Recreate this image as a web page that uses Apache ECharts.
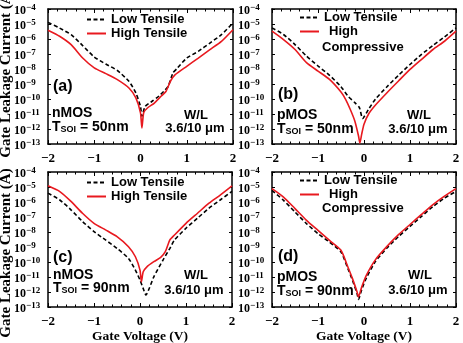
<!DOCTYPE html>
<html>
<head>
<meta charset="utf-8">
<script src="https://cdn.jsdelivr.net/npm/echarts@6/dist/echarts.min.js"></script>
<style>
  html, body { margin: 0; padding: 0; background: #fff; }
  #chart { width: 463px; height: 343px; }
</style>
</head>
<body>
<div id="chart"></div>
<script>
// gate voltage (V) and log10 of gate leakage current (A)
var vA_low  = [-2, -1.75, -1.5, -1.25, -1, -0.75, -0.5, -0.25, -0.1, 0, 0.03, 0.1, 0.25, 0.4, 0.5, 0.6, 0.7, 0.8, 1, 1.25, 1.5, 1.75, 2]
var iA_low  = [-4.89, -5.27, -5.71, -6.44, -7.2, -7.67, -8.1, -8.82, -9.6, -10.5, -11.15, -10.5, -10.15, -9.8, -9.5, -9.15, -8.27, -7.93, -7.27, -6.82, -6.27, -5.71, -4.93]
var vA_high = [-2, -1.75, -1.5, -1.25, -1, -0.75, -0.5, -0.25, -0.1, 0, 0.03, 0.07, 0.15, 0.3, 0.45, 0.55, 0.65, 0.75, 1, 1.25, 1.5, 1.75, 2]
var iA_high = [-5.42, -5.82, -6.38, -7.27, -7.93, -8.31, -8.71, -9.27, -9.93, -10.93, -11.93, -10.9, -10.6, -10.27, -9.8, -9.5, -8.8, -8.38, -7.82, -7.27, -6.71, -6.16, -5.38]

var vB_low  = [-2, -1.75, -1.5, -1.25, -1, -0.75, -0.5, -0.35, -0.2, -0.1, -0.03, 0.1, 0.25, 0.5, 0.75, 1, 1.25, 1.5, 1.75, 2]
var iB_low  = [-5.26, -5.7, -6.37, -7.14, -7.8, -8.42, -9.18, -9.8, -10.24, -10.57, -11.3, -10.68, -10.0, -9.18, -8.42, -7.7, -7.03, -6.43, -5.86, -5.26]
var vB_high = [-2, -1.75, -1.5, -1.25, -1, -0.75, -0.5, -0.4, -0.3, -0.2, -0.12, -0.09, -0.05, 0, 0.1, 0.25, 0.5, 0.75, 1, 1.25, 1.5, 1.75, 2]
var iB_high = [-5.48, -6.04, -6.7, -7.58, -8.14, -8.69, -9.53, -10.02, -10.68, -11.46, -12.45, -12.94, -12.34, -11.68, -11.0, -10.4, -9.58, -8.8, -8.03, -7.36, -6.7, -6.15, -5.48]

var vC_low  = [-2, -1.75, -1.5, -1.25, -1, -0.75, -0.5, -0.25, -0.1, 0, 0.07, 0.13, 0.2, 0.3, 0.5, 0.65, 0.75, 1, 1.25, 1.5, 1.75, 2]
var iC_low  = [-5.41, -5.85, -6.52, -7.3, -7.97, -8.53, -9.09, -9.76, -10.54, -11.2, -11.77, -12.2, -11.77, -10.99, -9.87, -9.09, -8.53, -7.75, -7.08, -6.41, -5.85, -5.29]
var vC_high = [-2, -1.75, -1.5, -1.25, -1, -0.75, -0.5, -0.25, -0.1, 0, 0.03, 0.07, 0.15, 0.3, 0.45, 0.55, 0.65, 0.75, 1, 1.25, 1.5, 1.75, 2]
var iC_high = [-4.92, -5.29, -5.96, -6.75, -7.42, -7.86, -8.31, -8.98, -9.65, -10.54, -11.32, -10.65, -10.32, -9.98, -9.69, -9.31, -8.53, -8.2, -7.42, -6.75, -6.08, -5.52, -4.92]

var vD_low  = [-2, -1.75, -1.5, -1.25, -1, -0.75, -0.5, -0.35, -0.25, -0.15, -0.12, -0.05, 0.05, 0.25, 0.5, 0.75, 1, 1.25, 1.5, 1.75, 2]
var iD_low  = [-5.22, -5.89, -6.67, -7.44, -8.11, -8.67, -9.33, -10.44, -11.22, -12.11, -12.49, -11.84, -11.07, -9.96, -9.07, -8.3, -7.63, -6.96, -6.3, -5.74, -5.29]
var vD_high = [-2, -1.75, -1.5, -1.25, -1, -0.75, -0.5, -0.35, -0.25, -0.15, -0.12, -0.05, 0.05, 0.25, 0.5, 0.75, 1, 1.25, 1.5, 1.75, 2]
var iD_high = [-5.11, -5.67, -6.44, -7.22, -7.89, -8.56, -9.22, -10.33, -11.11, -12.0, -12.33, -11.67, -10.89, -9.84, -8.96, -8.18, -7.5, -6.83, -6.17, -5.61, -5.11]

var xTicks = [-2, -1, 0, 1, 2]
var yExpMin = -13
var yExpMax = -4

var RED = '#e8191f'
var SERIF = '"Liberation Serif", "Times New Roman", serif'
var SANS = '"Liberation Sans", Arial, sans-serif'

function pairs(v, i) {
  return v.map(function (x, k) { return [x, i[k]] })
}

var panels = [
  { grid: { left: 48, top: 9, width: 185, height: 135 }, low: pairs(vA_low, iA_low), high: pairs(vA_high, iA_high), highName: 'High Tensile', legend: [86, 13] },
  { grid: { left: 272, top: 9, width: 184, height: 135 }, low: pairs(vB_low, iB_low), high: pairs(vB_high, iB_high), highName: 'High Compressive', legend: [299, 11] },
  { grid: { left: 48, top: 172, width: 184, height: 135 }, low: pairs(vC_low, iC_low), high: pairs(vC_high, iC_high), highName: 'High Tensile', legend: [86, 176] },
  { grid: { left: 272, top: 172, width: 184, height: 135 }, low: pairs(vD_low, iD_low), high: pairs(vD_high, iD_high), highName: 'High Compressive', legend: [299, 174] }
]

var axisLine = { onZero: false, lineStyle: { color: '#000', width: 1.5 } }
var minus = function (v) { return v < 0 ? '\u2212' + (-v) : String(v) }

var grid = [], xAxis = [], yAxis = [], series = [], legend = []
panels.forEach(function (p, i) {
  grid.push(p.grid)
  var xBase = {
    gridIndex: i, type: 'value', min: xTicks[0], max: xTicks[xTicks.length - 1], interval: 1,
    axisLine: axisLine, splitLine: { show: false },
    axisTick: { inside: true, length: 4, lineStyle: { color: '#000', width: 1 } },
    minorTick: { show: true, splitNumber: 5, length: 2.5, lineStyle: { color: '#000', width: 1 } }
  }
  xAxis.push(Object.assign({}, xBase, {
    position: 'bottom',
    axisLabel: { margin: 8, color: '#000', fontFamily: SERIF, fontWeight: 'bold', fontSize: 13, formatter: minus, showMinLabel: true, showMaxLabel: true }
  }))
  xAxis.push(Object.assign({}, xBase, { position: 'top', axisLabel: { show: false } }))

  var yBase = {
    gridIndex: i, type: 'value', min: yExpMin, max: yExpMax, interval: 1,
    axisLine: axisLine, splitLine: { show: false },
    axisTick: { inside: true, length: 3, lineStyle: { color: '#000', width: 1 } }
  }
  yAxis.push(Object.assign({}, yBase, {
    position: 'left',
    axisLabel: {
      margin: 34, align: 'left', color: '#000', showMinLabel: true, showMaxLabel: true, hideOverlap: false,
      formatter: function (v) { return '{b|10}{s|' + minus(v) + '}' },
      rich: {
        b: { fontFamily: SERIF, fontWeight: 'bold', fontSize: 12, lineHeight: 11, padding: [3, 0, 0, 0], color: '#000' },
        s: { fontFamily: SERIF, fontWeight: 'bold', fontSize: 9, lineHeight: 8, verticalAlign: 'top', color: '#000' }
      }
    }
  }))
  yAxis.push(Object.assign({}, yBase, { position: 'right', axisLabel: { show: false } }))

  series.push({
    name: 'Low Tensile', type: 'line', xAxisIndex: 2 * i, yAxisIndex: 2 * i,
    data: p.low, showSymbol: false, symbol: 'none', smooth: 0.2,
    lineStyle: { color: '#000', width: 1.6, type: [4, 2.5] }, itemStyle: { color: '#000' }
  })
  series.push({
    name: p.highName, type: 'line', xAxisIndex: 2 * i, yAxisIndex: 2 * i,
    data: p.high, showSymbol: false, symbol: 'none', smooth: 0.2,
    lineStyle: { color: RED, width: 1.6 }, itemStyle: { color: RED }
  })

  legend.push({
    orient: 'vertical', left: p.legend[0], top: p.legend[1], padding: 0,
    itemWidth: 19, itemHeight: 14, itemGap: 1, selectedMode: false,
    itemStyle: { opacity: 0 },
    lineStyle: { width: 2, opacity: 1 },
    data: ['Low Tensile', p.highName],
    formatter: function (name) { return name === 'High Compressive' ? '{h|High}' : name },
    textStyle: {
      fontFamily: SANS, fontWeight: 'bold', fontSize: 13, color: '#000',
      rich: { h: { fontFamily: SANS, fontWeight: 'bold', fontSize: 13, color: '#000', padding: [0, 0, 0, 5] } }
    }
  })
})

function txt(x, y, text, size, align, family) {
  return {
    type: 'text', x: x, y: y, silent: true,
    style: { text: text, fill: '#000', font: 'bold ' + size + 'px ' + (family || SANS), align: align || 'left', verticalAlign: 'middle' }
  }
}
function tsoi(x, y, t) {
  return {
    type: 'text', x: x, y: y, silent: true,
    style: {
      text: '{t|T}{s|SOI}{t| = ' + t + '}', verticalAlign: 'middle',
      rich: {
        t: { fontFamily: SANS, fontWeight: 'bold', fontSize: 14, lineHeight: 14, fill: '#000' },
        s: { fontFamily: SANS, fontWeight: 'bold', fontSize: 9, lineHeight: 9, verticalAlign: 'bottom', fill: '#000' }
      }
    }
  }
}
function yName(y) {
  return {
    type: 'text', x: 6, y: y, rotation: Math.PI / 2, silent: true,
    style: { text: 'Gate Leakage Current (A)', fill: '#000', font: 'bold 15px ' + SERIF, align: 'center', verticalAlign: 'middle' }
  }
}

var graphic = [
  txt(53, 87, '(a)', 16), txt(52, 113, 'nMOS', 14), tsoi(52, 127, '50nm'),
  txt(196, 115, 'W/L', 13, 'center'), txt(195, 128, '3.6/10 \u03bcm', 13, 'center'),
  txt(278, 95, '(b)', 16), txt(277, 115, 'pMOS', 14), tsoi(277, 129, '50nm'),
  txt(419, 115, 'W/L', 13, 'center'), txt(418, 129, '3.6/10 \u03bcm', 13, 'center'),
  txt(322, 47, 'Compressive', 13),
  txt(53, 258, '(c)', 16), txt(53, 275, 'nMOS', 14), tsoi(53, 288, '90nm'),
  txt(196, 275, 'W/L', 13, 'center'), txt(194, 290, '3.6/10 \u03bcm', 13, 'center'),
  txt(278, 257, '(d)', 16), txt(277, 277, 'pMOS', 14), tsoi(277, 291, '90nm'),
  txt(420, 275, 'W/L', 13, 'center'), txt(418, 290, '3.6/10 \u03bcm', 13, 'center'),
  txt(322, 208, 'Compressive', 13),
  txt(140, 337, 'Gate Voltage (V)', 13.5, 'center', SERIF),
  txt(364, 337, 'Gate Voltage (V)', 13.5, 'center', SERIF),
  yName(73), yName(253)
]

var chart = echarts.init(document.getElementById('chart'), null, { renderer: 'canvas' })
chart.setOption({
  animation: false,
  backgroundColor: '#fff',
  grid: grid,
  xAxis: xAxis,
  yAxis: yAxis,
  legend: legend,
  series: series,
  graphic: graphic
})
</script>
</body>
</html>
